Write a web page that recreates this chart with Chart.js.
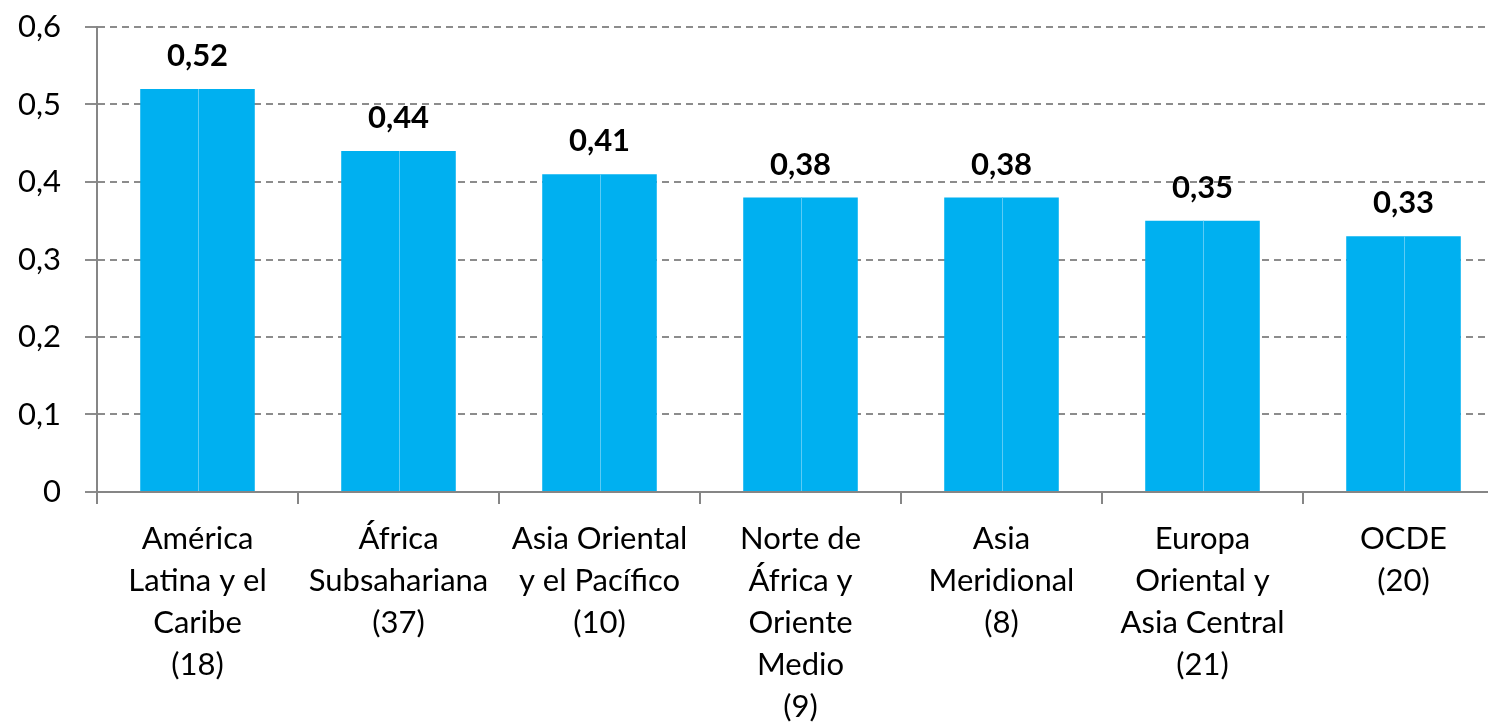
<!DOCTYPE html>
<html>
<head>
<meta charset="utf-8">
<script src="https://cdn.jsdelivr.net/npm/chart.js@4.4.0/dist/chart.umd.min.js"></script>
<style>
  html, body { margin: 0; padding: 0; background: #fff; overflow: hidden; }
  #wrap { width: 1504px; height: 722px; }
</style>
</head>
<body>
<div id="wrap"><canvas id="barChart" width="1504" height="722"></canvas></div>
<script>
// Regiones (número de países entre paréntesis)
const categorias = [
    ['América', 'Latina y el', 'Caribe', '(18)'],
    ['África', 'Subsahariana', '(37)'],
    ['Asia Oriental', 'y el Pacífico', '(10)'],
    ['Norte de', 'África y', 'Oriente', 'Medio', '(9)'],
    ['Asia', 'Meridional', '(8)'],
    ['Europa', 'Oriental y', 'Asia Central', '(21)'],
    ['OCDE', '(20)']
];
const valores = [0.52, 0.44, 0.41, 0.38, 0.38, 0.35, 0.33];
const ticksY = [0, 0.1, 0.2, 0.3, 0.4, 0.5, 0.6];

const fuente = "Lato, 'Open Sans', sans-serif";
const coma = v => String(v).replace('.', ',');

// línea clara en el centro de cada barra + etiquetas de valor
const etiquetasPlugin = {
    id: 'etiquetas',
    afterDatasetsDraw(chart) {
        const ctx = chart.ctx;
        const meta = chart.getDatasetMeta(0);
        ctx.save();
        meta.data.forEach((bar, i) => {
            ctx.strokeStyle = '#5ccbf5';
            ctx.lineWidth = 1;
            ctx.beginPath();
            ctx.moveTo(Math.round(bar.x) + 0.5, bar.y);
            ctx.lineTo(Math.round(bar.x) + 0.5, bar.base);
            ctx.stroke();

            ctx.fillStyle = '#000';
            ctx.font = "bold 31px " + fuente;
            ctx.textAlign = 'center';
            ctx.textBaseline = 'middle';
            ctx.fillText(coma(valores[i]), bar.x, bar.y - 33);
        });
        ctx.restore();
    }
};

const barChart = new Chart(document.getElementById('barChart').getContext('2d'), {
    type: 'bar',
    data: {
        labels: categorias,
        datasets: [{
            data: valores,
            backgroundColor: '#00b0f0',
            borderWidth: 0,
            barPercentage: 1,
            categoryPercentage: 0.57
        }]
    },
    options: {
        responsive: false,
        animation: false,
        layout: { padding: 0 },
        plugins: { legend: { display: false }, tooltip: { enabled: false } },
        scales: {
            x: {
                afterFit: s => { s.height = 230; },
                border: { color: '#868686', width: 2 },
                grid: {
                    offset: true,
                    drawOnChartArea: false,
                    drawTicks: true,
                    tickLength: 12,
                    color: '#868686',
                    lineWidth: 2
                },
                ticks: {
                    color: '#000',
                    maxRotation: 0,
                    autoSkip: false,
                    padding: 14,
                    font: { family: fuente, size: 31, lineHeight: 42 / 31 }
                }
            },
            y: {
                min: 0,
                max: 0.6,
                afterFit: s => { s.width = 97; s.paddingTop = 27; s.paddingBottom = 0; },
                afterBuildTicks: s => { s.ticks = ticksY.map(v => ({ value: v })); },
                border: { color: '#868686', width: 2, dash: [7, 5] },
                grid: {
                    color: '#8c8c8c',
                    lineWidth: 2,
                    tickBorderDash: [],
                    tickLength: 12,
                    drawTicks: true
                },
                ticks: {
                    color: '#000',
                    padding: 24,
                    callback: v => coma(Math.round(v * 10) / 10),
                    font: { family: fuente, size: 31 }
                }
            }
        }
    },
    plugins: [etiquetasPlugin]
});
</script>
</body>
</html>
